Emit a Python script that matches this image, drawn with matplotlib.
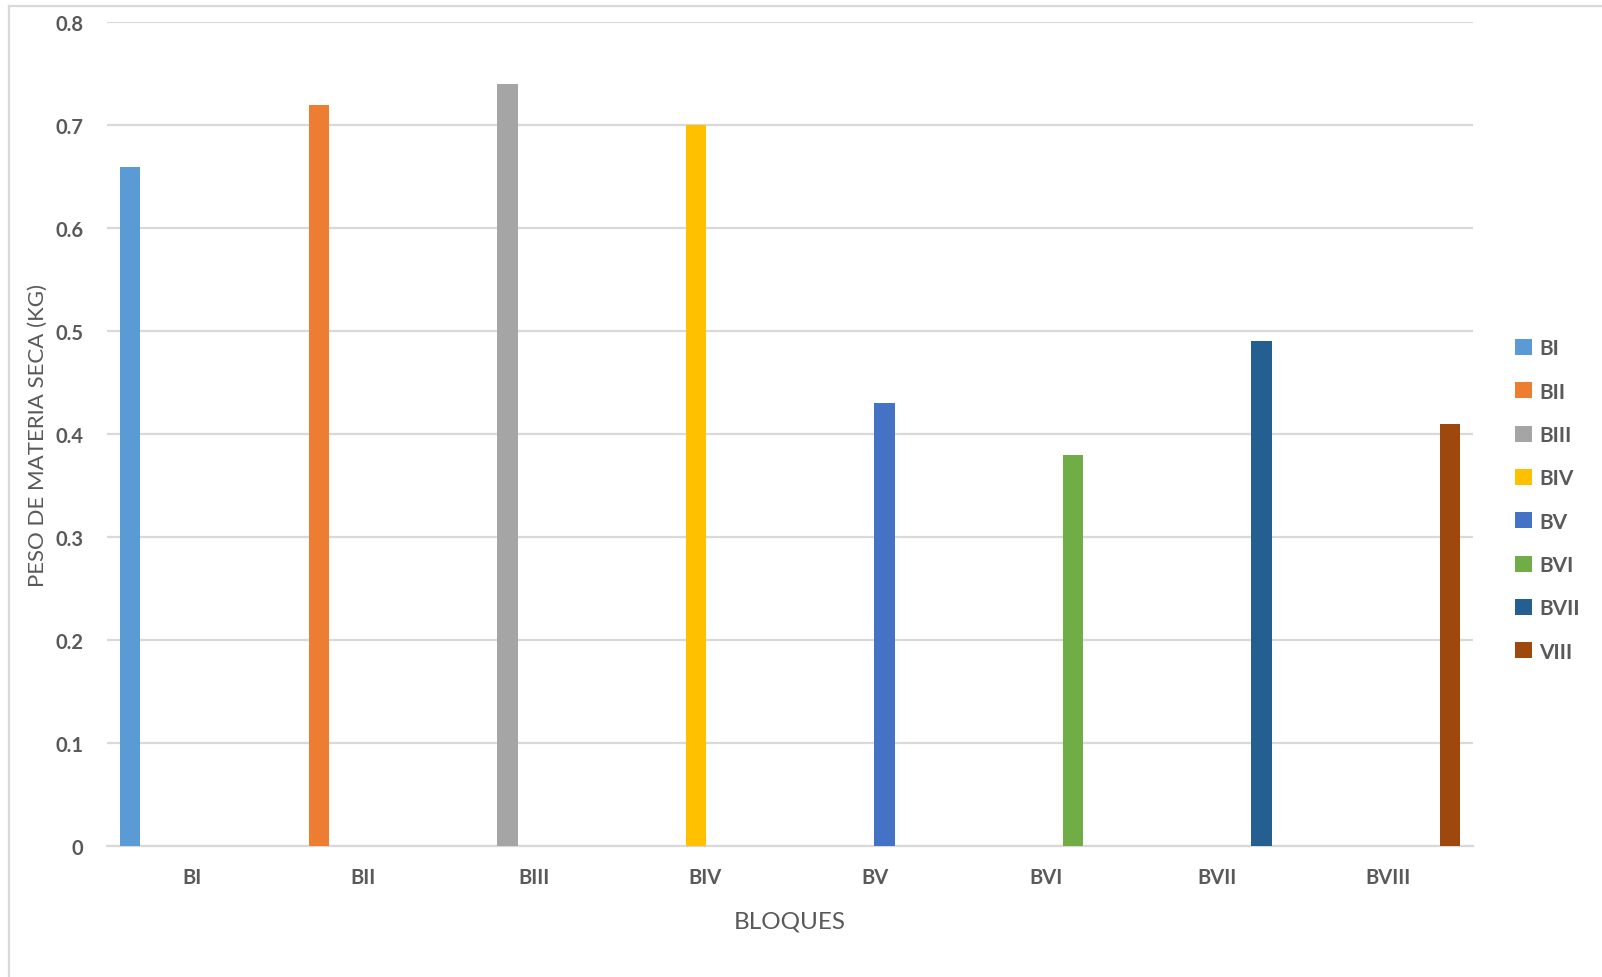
import matplotlib
matplotlib.use('Agg')
import matplotlib.pyplot as plt
from matplotlib.lines import Line2D
from matplotlib.ticker import FuncFormatter, MultipleLocator

plt.rcParams['font.family'] = ['Lato', 'DejaVu Sans']

# peso de materia seca por bloque
BLOQUES = ['BI', 'BII', 'BIII', 'BIV', 'BV', 'BVI', 'BVII', 'BVIII']
SERIES = ['BI', 'BII', 'BIII', 'BIV', 'BV', 'BVI', 'BVII', 'VIII']
PESO = [0.66, 0.72, 0.74, 0.70, 0.43, 0.38, 0.49, 0.41]
COLORES = ['#5B9BD5', '#ED7D31', '#A5A5A5', '#FFC000',
           '#4472C4', '#70AD47', '#255E91', '#9E480E']

TXT = '#595959'
GRID = '#D9D9D9'

fig = plt.figure(figsize=(16.02, 9.78), dpi=100)
ax = fig.add_axes([0.0668, 0.1342, 0.8527, 0.8418])

# clustered layout: 8 series per category, each series only has a value in its own block
n = len(SERIES)
slot = 0.104
width = 0.12
for i, (name, val, col) in enumerate(zip(SERIES, PESO, COLORES)):
    ax.bar(i + (i - (n - 1) / 2) * slot, val, width=width, color=col, label=name, zorder=3)

ax.set_xlim(-0.5, len(BLOQUES) - 0.5)
ax.set_ylim(0, 0.8)
ax.set_xticks(range(len(BLOQUES)))
ax.set_xticklabels(BLOQUES)
ax.yaxis.set_major_locator(MultipleLocator(0.1))
ax.yaxis.set_major_formatter(FuncFormatter(lambda v, p: f'{v:.1f}'.rstrip('0').rstrip('.') if v else '0'))

ax.grid(axis='y', color=GRID, linewidth=1.6, zorder=0)
for s in ['left', 'right', 'top']:
    ax.spines[s].set_visible(False)
ax.spines['bottom'].set_color(GRID)
ax.spines['bottom'].set_linewidth(1.6)
ax.tick_params(axis='both', length=0, colors=TXT, labelsize=14.5)
ax.tick_params(axis='y', pad=17)
ax.tick_params(axis='x', pad=15)
for lab in ax.get_xticklabels() + ax.get_yticklabels():
    lab.set_fontweight('bold')

ax.set_xlabel('BLOQUES', color=TXT, fontsize=17.5, labelpad=17)
ax.set_ylabel('PESO DE MATERIA SECA (KG)', color=TXT, fontsize=16)
ax.yaxis.set_label_coords(-0.043, 0.5)

leg = ax.legend(loc='center left', bbox_to_anchor=(1.017, 0.42), frameon=False,
                handlelength=0.8, handleheight=0.8, handletextpad=0.35,
                labelspacing=1.12, fontsize=15, labelcolor=TXT)
for t in leg.get_texts():
    t.set_fontweight('bold')

# chart area border (left and top edges)
fig.add_artist(Line2D([9 / 1602, 9 / 1602], [0, 1 - 7 / 978], color=GRID, lw=1.6))
fig.add_artist(Line2D([9 / 1602, 1], [1 - 7 / 978, 1 - 7 / 978], color=GRID, lw=1.6))

fig.savefig('out.png', dpi=100, facecolor='white')
